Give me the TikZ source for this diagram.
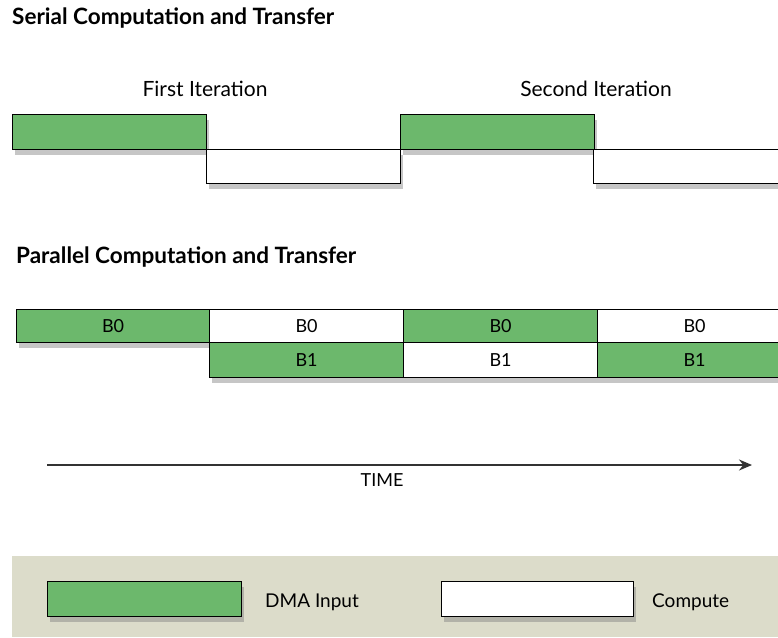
\documentclass[tikz,border=0pt]{standalone}
\usepackage{fontspec}
\setmainfont{Lato}
\usetikzlibrary{positioning,shadows,arrows.meta}
\definecolor{dmagreen}{RGB}{108,184,108}
\definecolor{legendbg}{RGB}{220,220,202}
\tikzset{
  slot/.style={draw=black, line width=1.2pt, minimum width=194, minimum height=34,
    inner sep=0pt, anchor=north west, font=\fontsize{18}{20}\selectfont,
    drop shadow={shadow xshift=2pt, shadow yshift=-5pt, opacity=0.45}},
  dma/.style={slot, fill=dmagreen},
  cpu/.style={slot, fill=white},
  heading/.style={anchor=west, inner sep=0pt, font=\bfseries\fontsize{22.5}{26}\selectfont},
  iter/.style={font=\fontsize{21}{24}\selectfont},
  tag/.style={anchor=west, inner sep=0pt, font=\fontsize{19}{22}\selectfont}
}
\begin{document}
\begin{tikzpicture}[x=1pt, y=-1pt]
      \useasboundingbox (0,0) rectangle (778,637);
      \clip (0,0) rectangle (778,637);
      % serial
      \node[heading] (serial) at (12,18) {Serial Computation and Transfer};
      \node[iter] (first) at (205,89) {First Iteration};
      \node[iter] (second) at (596,89) {Second Iteration};
      \node[dma, minimum height=35] (s1) at (12,114) {};
      \node[cpu] (s2) at (206,149) {};
      \node[dma, minimum height=35] (s3) at (400,114) {};
      \node[cpu] (s4) at (593,149) {};
      % parallel
      \node[heading] (parallel) at (16,257) {Parallel Computation and Transfer};
      \node[dma, minimum width=193, minimum height=33] (p1) at (16,309) {B0};
      \node[cpu, minimum height=33] (p2) at (209,309) {B0};
      \node[dma, minimum height=33] (p3) at (403,309) {B0};
      \node[cpu, minimum height=33] (p4) at (597,309) {B0};
      \node[dma, minimum height=35] (q2) at (209,342) {B1};
      \node[cpu, minimum height=35] (q3) at (403,342) {B1};
      \node[dma, minimum height=35] (q4) at (597,342) {B1};
      % time axis
      \coordinate (t0) at (47,465);
      \coordinate (t1) at (752,465);
      \draw[line width=1.6pt, black!80, -{Stealth[length=13pt, width=11pt]}] (t0) -- (t1);
      \node[font=\fontsize{18}{20}\selectfont] (time) at (382,480) {TIME};
      % legend
      \fill[legendbg] (12,556) rectangle (778,637);
      \node[dma, minimum height=35] (l1) at (47,581) {};
      \node[tag] (dmalabel) at (265,602) {DMA Input};
      \node[cpu, minimum width=192, minimum height=35] (l2) at (441,581) {};
      \node[tag] (cpulabel) at (652,602) {Compute};
\end{tikzpicture}
\end{document}
